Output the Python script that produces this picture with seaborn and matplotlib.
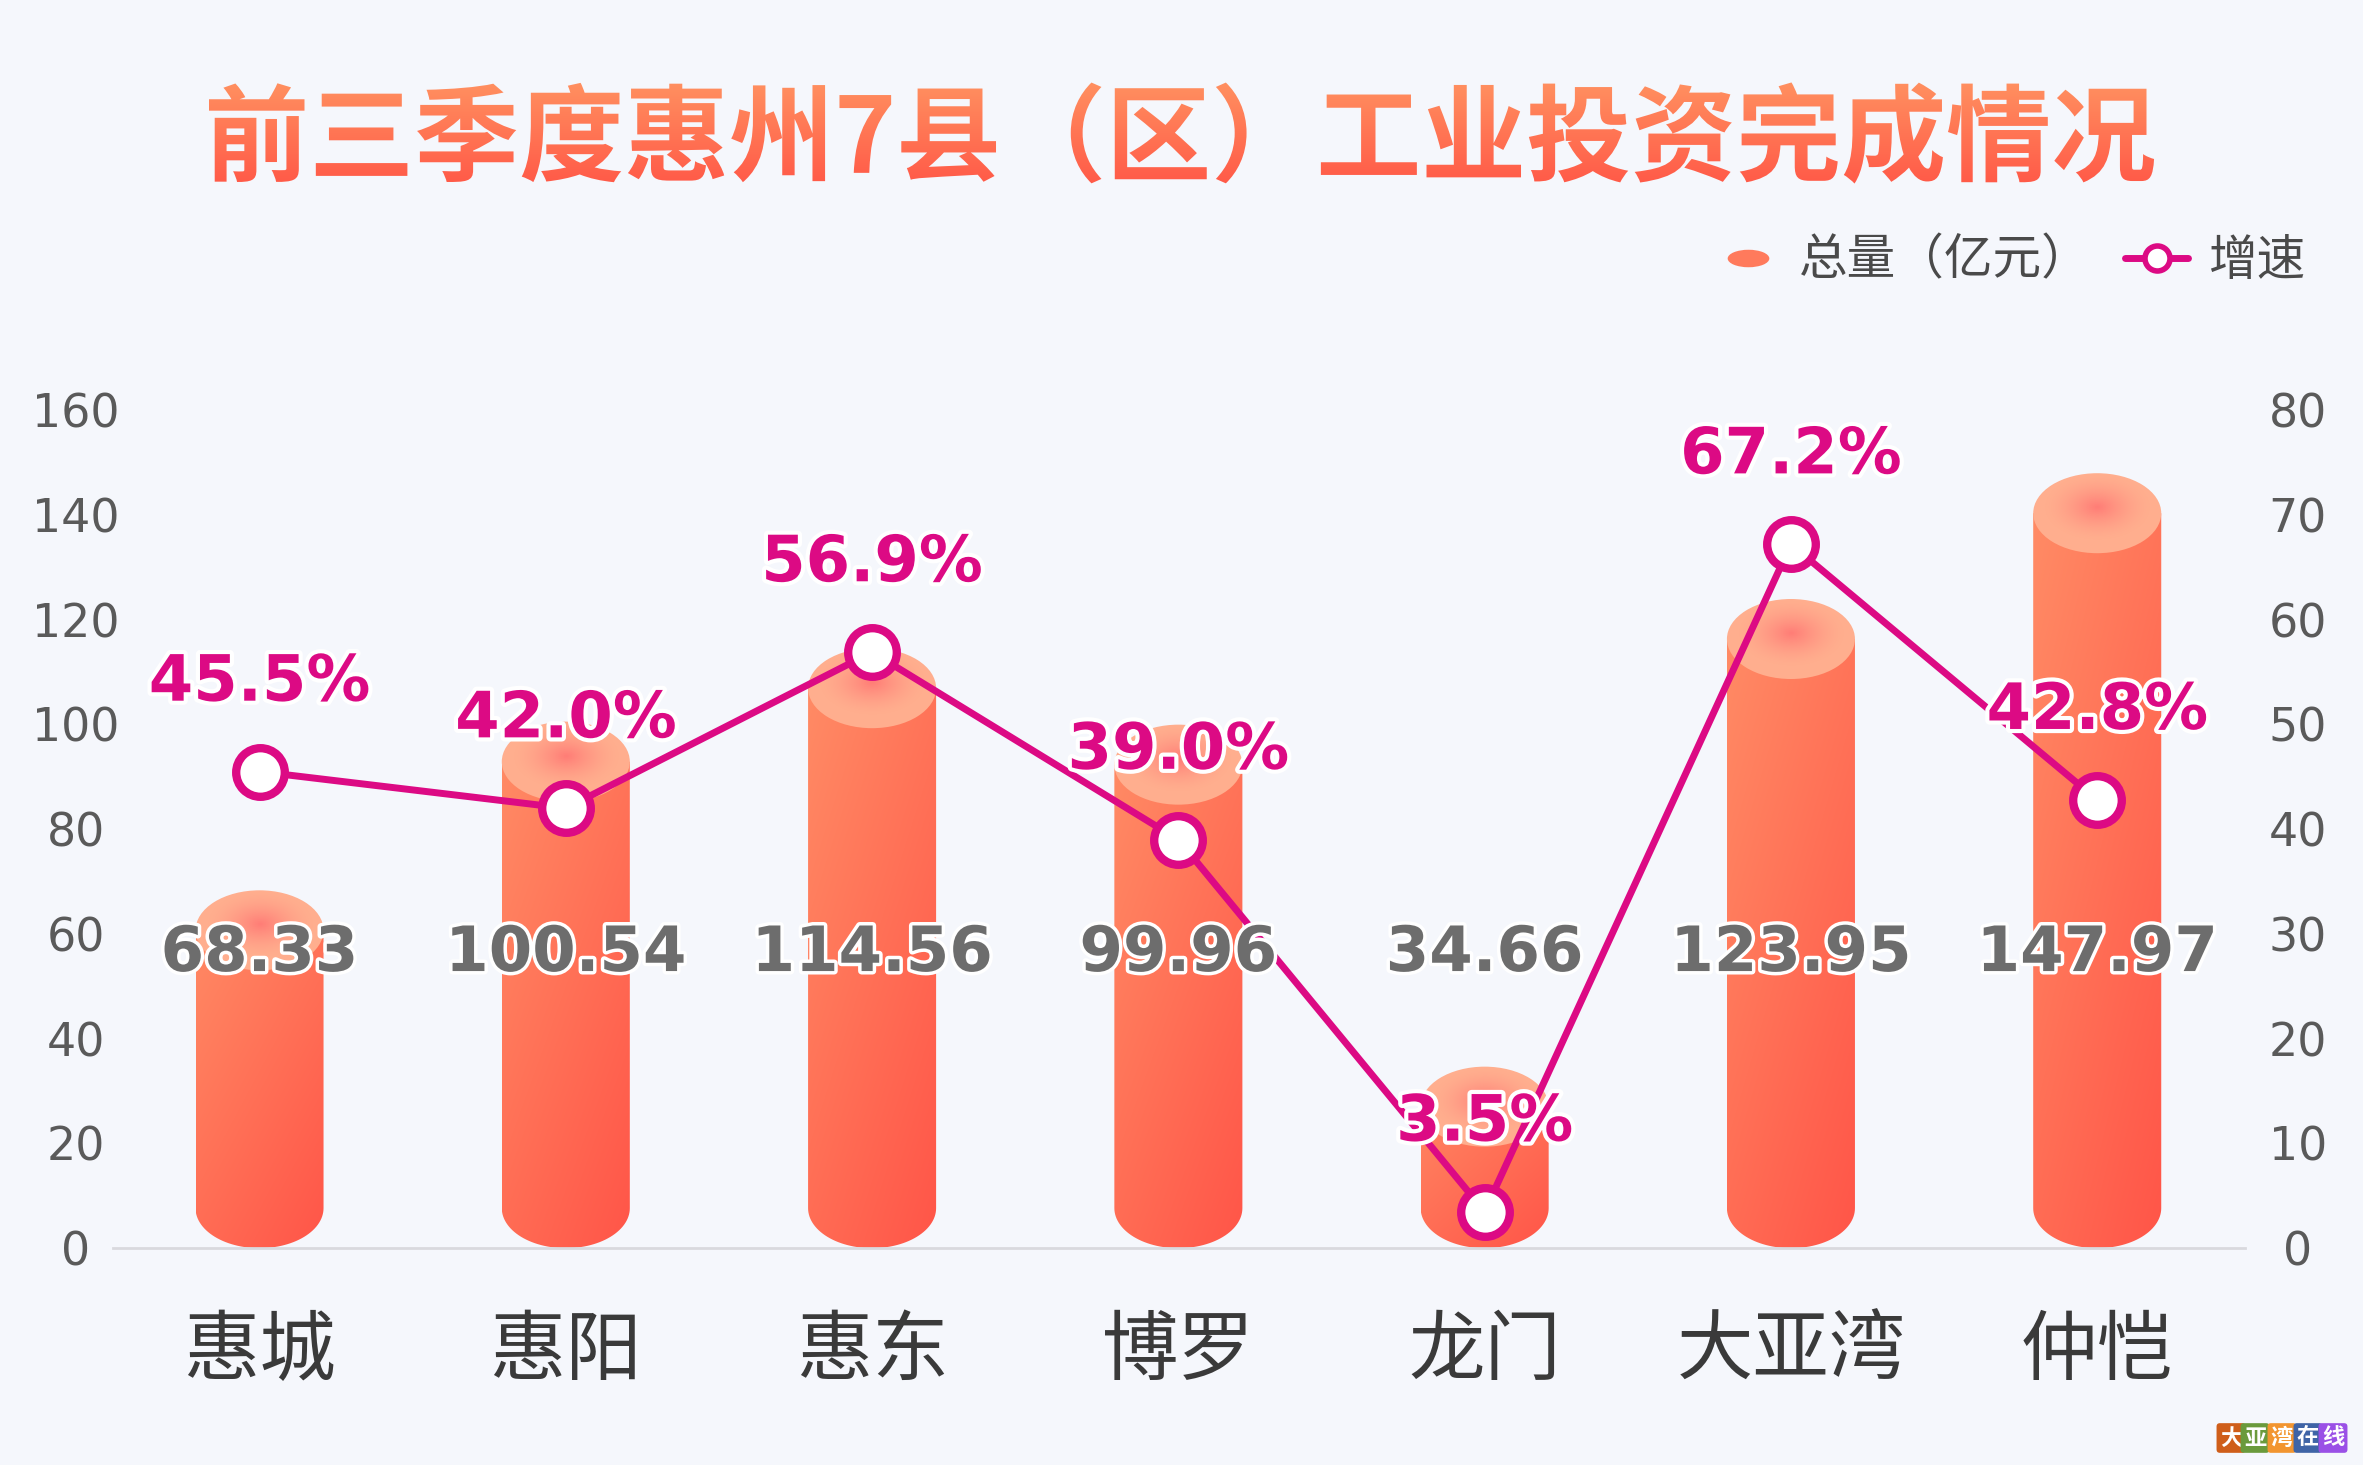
import numpy as np
import pandas as pd
import matplotlib
matplotlib.use("Agg")
import matplotlib.pyplot as plt
import seaborn as sns
from matplotlib.patches import Ellipse, PathPatch
from matplotlib.path import Path
from matplotlib.lines import Line2D
from matplotlib.textpath import TextPath
from matplotlib.font_manager import FontProperties
from matplotlib.transforms import Affine2D
from matplotlib.colors import to_rgb
import matplotlib.patheffects as pe

# ---------------- data ----------------
title = "前三季度惠州7县（区）工业投资完成情况"
categories = ["惠城", "惠阳", "惠东", "博罗", "龙门", "大亚湾", "仲恺"]
totals = [68.33, 100.54, 114.56, 99.96, 34.66, 123.95, 147.97]
growth = [45.5, 42.0, 56.9, 39.0, 3.5, 67.2, 42.8]
left_ticks = [0, 20, 40, 60, 80, 100, 120, 140, 160]
right_ticks = [0, 10, 20, 30, 40, 50, 60, 70, 80]
legend_labels = ["总量（亿元）", "增速"]
logo_chars = ["大", "亚", "湾", "在", "线"]
logo_colors = ["#CF5E1A", "#6A9A3C", "#F29530", "#3F64A6", "#9A50E6"]

# ---------------- style ----------------
BG = "#F5F7FC"
LINE = "#DC0A84"
BAR_TL = "#FF8D66"
BAR_BR = "#FF5548"
TOP_CAP = "#FFAE8E"
TOP_SPOT = "#FF7070"

sns.set_theme(style="white")
plt.rcParams["font.family"] = ["Noto Sans CJK SC", "DejaVu Sans"]

W, H = 2363, 1465
fig = plt.figure(figsize=(W / 100, H / 100), dpi=100, facecolor=BG)

# ---------------- title (gradient text) ----------------
tax = fig.add_axes([0, 0, 1, 1], zorder=-1)
tax.set_xlim(0, W)
tax.set_ylim(0, H)
tax.axis("off")
tp = TextPath((0, 0), title, size=105,
              prop=FontProperties(family="Noto Sans CJK SC", weight="black"))
bb = tp.get_extents()
cx, cy = W / 2, H - 133
tp = Affine2D().translate(cx - (bb.x0 + bb.x1) / 2, cy - (bb.y0 + bb.y1) / 2).transform_path(tp)
bb = tp.get_extents()
tpatch = PathPatch(tp, fc="none", ec="none")
tax.add_patch(tpatch)
g = np.linspace(0, 1, 100)[:, None]
c1, c2 = np.array(to_rgb("#FF5A48")), np.array(to_rgb("#FF9060"))
timg = (c1[None, None, :] * (1 - g[..., None]) + c2[None, None, :] * g[..., None]) * np.ones((1, 2, 1))
im = tax.imshow(timg, extent=[bb.x0, bb.x1, bb.y0, bb.y1], origin="lower",
                aspect="auto", interpolation="bilinear")
im.set_clip_path(tpatch)

# ---------------- main axes ----------------
ax = fig.add_axes([0.048, 0.148, 0.902, 0.572])
ax.set_facecolor("none")
df = pd.DataFrame({"区县": categories, "总量": totals})
sns.barplot(data=df, x="区县", y="总量", ax=ax, width=0.418,
            color=BAR_BR, saturation=1, errorbar=None)
XL = (-0.477, 6.482)
ax.set_xlim(*XL)
ax.set_ylim(0, 160)

ax_h_px = ax.get_position().height * H
e = 40 * 160 / ax_h_px  # ellipse half height in data units

cA, cB = np.array(to_rgb(BAR_TL)), np.array(to_rgb(BAR_BR))
spot = np.array(to_rgb(TOP_SPOT))
bar_geom = []
for p in list(ax.patches):
    x0, w, h = p.get_x(), p.get_width(), p.get_height()
    xc = x0 + w / 2
    p.set_visible(False)
    bar_geom.append((xc, h))
    th = np.linspace(np.pi, 2 * np.pi, 60)
    arc = np.column_stack([xc + w / 2 * np.cos(th), e + e * np.sin(th)])
    verts = np.vstack([[[x0, h - e]], [[x0, e]], arc, [[x0 + w, h - e]], [[x0, h - e]]])
    codes = [Path.MOVETO] + [Path.LINETO] * (len(verts) - 2) + [Path.CLOSEPOLY]
    body = PathPatch(Path(verts, codes), fc="none", ec="none")
    ax.add_patch(body)
    ny, nx = 200, 60
    u = np.linspace(0, 1, nx)[None, :]
    v = np.linspace(0, 1, ny)[:, None]
    s = np.clip(0.6 * (1 - v) + 0.4 * u, 0, 1)
    img = cA[None, None, :] * (1 - s[..., None]) + cB[None, None, :] * s[..., None]
    bi = ax.imshow(img, extent=[x0, x0 + w, 0, h], origin="lower", aspect="auto",
                   interpolation="bilinear", zorder=2)
    bi.set_clip_path(body)
    cap = Ellipse((xc, h - e), w, 2 * e, fc=TOP_CAP, ec="none", zorder=3)
    ax.add_patch(cap)
    yy, xx = np.mgrid[-1:1:120j, -1:1:120j]
    r = np.sqrt(xx ** 2 + (yy - 0.15) ** 2)
    alpha = np.clip(1 - r / 0.85, 0, 1) ** 1.6 * 0.8
    rgba = np.zeros((120, 120, 4))
    rgba[..., :3] = spot
    rgba[..., 3] = alpha
    si = ax.imshow(rgba, extent=[x0, x0 + w, h - 2 * e, h], origin="lower",
                   aspect="auto", interpolation="bilinear", zorder=4)
    si.set_clip_path(cap)

ax.set_xlim(*XL)
ax.set_ylim(0, 160)
ax.set_xlabel("")
ax.set_ylabel("")
for sp in ["top", "left", "right"]:
    ax.spines[sp].set_visible(False)
ax.spines["bottom"].set_color("#D9D9DE")
ax.spines["bottom"].set_linewidth(2)
ax.set_yticks(left_ticks, [str(t) for t in left_ticks], ha="center", family="DejaVu Sans")
ax.tick_params(axis="y", length=0, pad=27, labelsize=33, labelcolor="#5A5A5A")
ax.tick_params(axis="x", length=0, pad=46, labelsize=55, labelcolor="#3A3A3A")
ax.grid(False)

# ---------------- growth line ----------------
ax2 = ax.twinx()
ax2.set_facecolor("none")
ldf = pd.DataFrame({"区县": categories, "增速": growth})
sns.lineplot(data=ldf, x="区县", y="增速", ax=ax2, sort=False, color=LINE,
             linewidth=5, marker="o", markersize=35, markerfacecolor="white",
             markeredgecolor=LINE, markeredgewidth=6, zorder=5)
ax2.set_ylim(0, 80)
ax2.set_xlim(*XL)
ax2.set_ylabel("")
ax2.set_xlabel("")
for sp in ax2.spines.values():
    sp.set_visible(False)
ax2.set_yticks(right_ticks, [str(t) for t in right_ticks], ha="center", family="DejaVu Sans")
ax2.tick_params(axis="y", length=0, pad=38, labelsize=33, labelcolor="#5A5A5A")
ax2.grid(False)

line = ax2.lines[0]
for xv, yv in zip(line.get_xdata(), line.get_ydata()):
    ax2.annotate(f"{yv:.1f}%", xy=(xv, yv), xytext=(0, 64), textcoords="offset points",
                 ha="center", va="center", fontsize=46, fontweight="bold",
                 family="DejaVu Sans", color=LINE, zorder=10,
                 path_effects=[pe.withStroke(linewidth=6, foreground="white")])

for xc, h in bar_geom:
    ax2.text(xc, 0.351, f"{h:.2f}", transform=ax.get_xaxis_transform(),
             ha="center", va="center", fontsize=45, fontweight="bold",
             family="DejaVu Sans", color="#6D6D6D", zorder=9,
             path_effects=[pe.withStroke(linewidth=5, foreground="white")])

# ---------------- legend ----------------
disc = Path.unit_circle().transformed(Affine2D().scale(1, 0.42))
handles = [
    Line2D([], [], ls="none", marker=disc, markersize=30,
           markerfacecolor="#FF7A5C", markeredgecolor="none"),
    Line2D([], [], color=LINE, lw=5, marker="o", markersize=18,
           markerfacecolor="white", markeredgecolor=LINE, markeredgewidth=4),
]
fig.legend(handles, legend_labels, loc="center right", bbox_to_anchor=(0.994, 0.822),
           ncol=2, frameon=False, fontsize=35, handlelength=1.3, handletextpad=0.4,
           columnspacing=0.7, labelcolor="#4A4A4A")

# ---------------- logo ----------------
logo_x = [2231, 2255, 2282, 2308, 2333]
for ch, col, lx in zip(logo_chars, logo_colors, logo_x):
    fig.text(lx / W, 1 - 1438 / H, ch, ha="center", va="center", fontsize=16,
             color="white", fontweight="bold",
             bbox=dict(boxstyle="round,pad=0.15", fc=col, ec="none"))

fig.savefig("out.png", dpi=100, facecolor=BG)
